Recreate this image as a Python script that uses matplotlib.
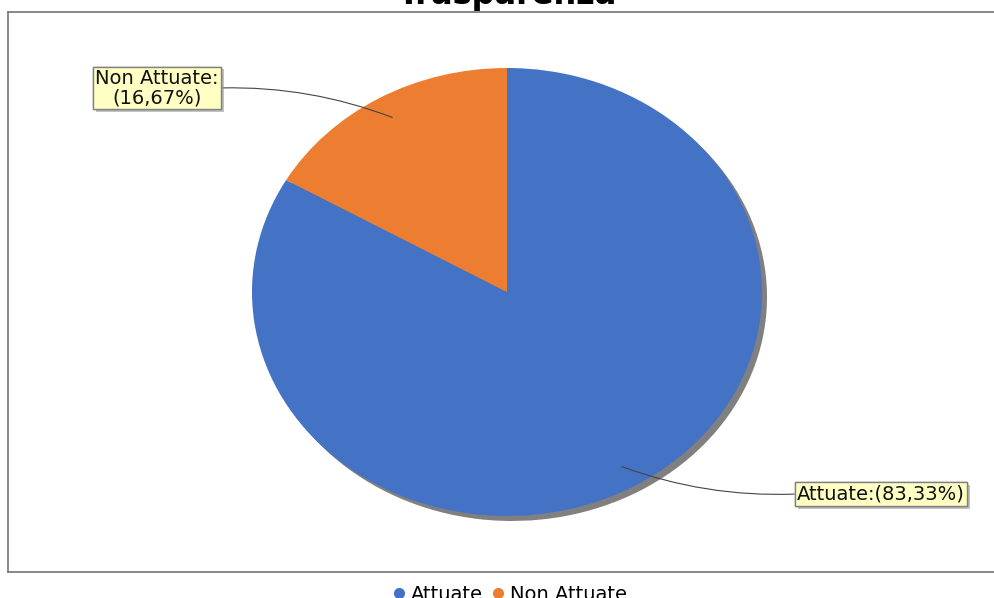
import numpy as np
import matplotlib
matplotlib.use("Agg")
import matplotlib.pyplot as plt
from matplotlib.lines import Line2D
import matplotlib.patheffects as pe

plt.rcParams["font.family"] = "sans-serif"
plt.rcParams["font.sans-serif"] = ["DejaVu Sans"]

# Data
categories = ["Attuate", "Non Attuate"]
values = [83.33, 16.67]
colors = ["#4472C4", "#ED7D31"]
label_texts = ["Attuate:(83,33%)", "Non Attuate:\n(16,67%)"]
title = "Trasparenza"

W, H = 994, 598
fig = plt.figure(figsize=(W / 100, H / 100), dpi=100)

# plot area in pixels (from top-left)
left_px, right_px, top_px, bottom_px = 8, 996, 12, 572
cx_px, cy_px, rx_px, ry_px = 507, 292, 255, 224

ax = fig.add_axes([left_px / W, 1 - bottom_px / H,
                   (right_px - left_px) / W, (bottom_px - top_px) / H])

# shadow
ax.pie(values, colors=["#808080", "#808080"], startangle=90, counterclock=False,
       center=(5 / rx_px, -5 / ry_px), radius=1, frame=True,
       wedgeprops=dict(linewidth=0))
wedges, _ = ax.pie(values, colors=colors, startangle=90, counterclock=False,
                   center=(0, 0), radius=1, frame=True,
                   wedgeprops=dict(linewidth=0))
ax.set_xlim((left_px - cx_px) / rx_px, (right_px - cx_px) / rx_px)
ax.set_ylim(-(bottom_px - cy_px) / ry_px, (cy_px - top_px) / ry_px)
ax.set_aspect("auto")
ax.set_xticks([])
ax.set_yticks([])
for s in ["left", "top", "bottom"]:
    ax.spines[s].set_color("#7f7f7f")
    ax.spines[s].set_linewidth(1.3)
ax.spines["right"].set_visible(False)

# label boxes (pixel centres) and relpos of the connector
label_pos_px = [(881, 494), (157, 88)]
relpos = [(0, 0.5), (1, 0.5)]
for w, txt, (px, py), rp in zip(wedges, label_texts, label_pos_px, relpos):
    mid = np.deg2rad((w.theta1 + w.theta2) / 2)
    anchor = (0.9 * np.cos(mid), 0.9 * np.sin(mid))
    xt = ((px - cx_px) / rx_px, (cy_px - py) / ry_px)
    t = ax.annotate(txt, xy=anchor, xytext=xt, ha="center", va="center",
                    fontsize=14, color="#111111", linespacing=1.0,
                    bbox=dict(boxstyle="square,pad=0.12", fc="#FFFFC4",
                              ec="#808080", lw=1),
                    arrowprops=dict(arrowstyle="-", color="#444444", lw=0.8,
                                    connectionstyle="arc3,rad=-0.1",
                                    relpos=rp, shrinkA=0, shrinkB=0))
    t.get_bbox_patch().set_path_effects(
        [pe.withSimplePatchShadow(offset=(2, -2), shadow_rgbFace="#999999", alpha=0.6),
         pe.Normal()])

fig.text(0.511, 1 - 4 / H, title, ha="center", va="baseline",
         fontsize=23, fontweight="bold", color="black")

handles = [Line2D([], [], marker="o", linestyle="", markersize=7,
                  markerfacecolor=c, markeredgecolor=c) for c in colors]
fig.legend(handles, categories, loc="upper center",
           bbox_to_anchor=(0.511, 1 - 585 / H), ncol=2, frameon=False,
           fontsize=14, handletextpad=0.1, columnspacing=0.3,
           handlelength=1.0, borderaxespad=0, borderpad=0)

fig.savefig("out.png", dpi=100)
